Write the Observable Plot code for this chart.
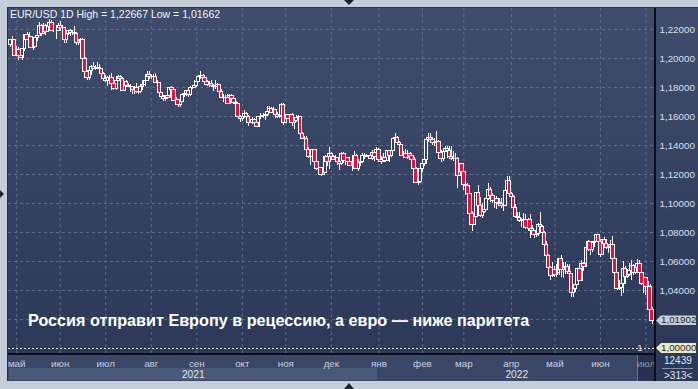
<!DOCTYPE html>
<html><head><meta charset="utf-8">
<script src="https://cdn.jsdelivr.net/npm/d3@7"></script>
<script src="https://cdn.jsdelivr.net/npm/@observablehq/plot@0.6"></script>
<style>
html,body{margin:0;padding:0;}
body{width:698px;height:389px;background:#c6ced9;position:relative;overflow:hidden;font-family:'Liberation Sans',Arial,sans-serif;}
.abs{position:absolute;}
#panel{left:8px;top:8px;width:690px;height:373px;background:linear-gradient(#3f4c6b,#2b3757);}
#chart{position:absolute;left:8px;top:8px;}
#title{left:10px;top:9px;font-size:10.5px;line-height:11px;color:#f2f4f8;white-space:nowrap;}
#caption{left:28px;top:312px;font-size:16.2px;line-height:16px;font-weight:bold;color:#ffffff;white-space:nowrap;}
.tag{font-size:9.8px;line-height:10px;height:10px;color:#1b2335;padding-left:5px;box-sizing:border-box;clip-path:polygon(0 50%,5px 0,100% 0,100% 100%,5px 100%);white-space:nowrap;}
.tri{width:0;height:0;}
</style>
</head><body>
<div id="panel" class="abs"></div>
<div id="axisband" class="abs" style="left:8px;top:355px;width:647px;height:26px;background:#3a4766;"></div>
<div id="year2021" class="abs" style="top:368px;height:12px;background:#4b5978;"></div>
<div id="curbox" class="abs" style="top:355px;height:26px;background:#283250;border-left:1px solid #6b7489;box-sizing:border-box;"></div>
<div id="chart"></div>
<div class="abs" style="left:654px;top:8px;width:2px;height:373px;background:#0b0e16;"></div>
<div class="abs" style="left:8px;top:353px;width:647px;height:2px;background:#0b0e16;"></div>
<div class="abs" style="left:7px;top:7px;width:691px;height:1px;background:#2a3246;"></div>
<div class="abs" style="left:7px;top:7px;width:1px;height:374px;background:#2a3246;"></div>
<div id="title" class="abs"></div>
<div id="caption" class="abs">Россия отправит Европу в рецессию, а евро — ниже паритета</div>
<div class="abs" style="left:664px;top:356px;font-size:10px;line-height:10px;color:#e2e8f2;">12439</div>
<div class="abs" style="left:662px;top:368px;width:31px;height:1px;background:#8a93a6;"></div>
<div class="abs" style="left:664px;top:371px;font-size:10px;line-height:10px;color:#e2e8f2;">&gt;313&lt;</div>
<div class="abs tri" style="left:344px;top:0;border-left:5px solid transparent;border-right:5px solid transparent;border-top:5px solid #1b2232;"></div>
<div class="abs tri" style="left:344px;top:383px;border-left:5px solid transparent;border-right:5px solid transparent;border-bottom:6px solid #1b2232;"></div>
<div class="abs tri" style="left:0;top:190px;border-top:4px solid transparent;border-bottom:4px solid transparent;border-left:4px solid #1b2232;"></div>
<script>
// ---- data (EUR/USD daily, 28 Apr 2021 – 6 Jul 2022) ----
const openP = [
1.2090,1.2125,1.2127,
1.2020,1.2062,1.2016,1.2005,1.2065,1.2164,1.2130,1.2149,1.2074,1.2080,1.2143,1.2154,1.2225,1.2172,1.2226,1.2180,1.2214,1.2248,1.2193,1.2193,1.2193,
1.2226,1.2212,1.2211,1.2125,1.2168,1.2190,1.2173,1.2178,1.2171,1.2107,1.2119,1.2125,1.1998,1.1905,1.1864,1.1917,1.1941,1.1925,1.1932,1.1937,1.1925,1.1895,
1.1857,1.1847,1.1865,1.1867,1.1822,1.1792,1.1844,1.1874,1.1860,1.1776,1.1835,1.1810,1.1806,1.1801,1.1781,1.1794,1.1771,1.1771,1.1802,1.1817,1.1843,1.1888,
1.1870,1.1869,1.1869,1.1834,1.1833,1.1762,1.1735,1.1719,1.1738,1.1729,1.1796,1.1780,1.1710,1.1711,1.1677,1.1701,1.1745,1.1755,1.1773,1.1750,1.1794,1.1795,
1.1808,1.1838,1.1874,1.1880,1.1866,1.1839,1.1818,1.1825,1.1812,1.1805,1.1806,1.1818,1.1766,1.1725,1.1728,1.1726,1.1688,1.1739,1.1718,1.1694,1.1683,1.1596,
1.1580,1.1595,1.1620,1.1597,1.1553,1.1553,1.1573,1.1553,1.1530,1.1594,1.1597,1.1601,1.1607,1.1633,1.1652,1.1623,1.1643,1.1608,1.1598,1.1604,1.1682,
1.1558,1.1607,1.1581,1.1612,1.1553,1.1567,1.1590,1.1594,1.1480,1.1446,1.1445,1.1368,1.1320,1.1320,1.1368,1.1288,1.1236,1.1247,1.1200,1.1210,1.1319,1.1289,
1.1338,1.1320,1.1300,1.1315,1.1285,1.1275,1.1344,1.1292,1.1315,1.1285,1.1258,1.1289,1.1330,1.1239,1.1280,1.1285,1.1328,1.1327,1.1322,1.1328,1.1310,1.1350,1.1323,
1.1370,1.1300,1.1287,1.1313,1.1296,1.1359,1.1325,1.1365,1.1442,1.1455,1.1414,1.1405,1.1325,1.1343,1.1312,1.1344,1.1325,1.1302,1.1240,1.1144,1.1147,
1.1235,1.1270,1.1302,1.1441,1.1455,1.1440,1.1415,1.1424,1.1425,1.1349,1.1305,1.1357,1.1374,1.1360,1.1322,1.1308,1.1308,1.1310,1.1190,1.1270,
1.1218,1.1125,1.1120,1.1065,1.0930,1.0855,1.0904,1.1072,1.0985,1.0911,1.0941,1.0957,1.1033,1.1093,1.1051,1.1014,1.1030,1.1005,1.0995,1.0983,1.0985,1.1088,1.1158,
1.1067,1.1046,1.0972,1.0904,1.0901,1.0882,1.0876,1.0885,1.0829,1.0889,1.0826,1.0809,1.0780,1.0788,1.0852,1.0839,1.0798,1.0714,1.0640,1.0558,1.0497,
1.0544,1.0508,1.0522,1.0619,1.0539,1.0552,1.0561,1.0529,1.0513,1.0380,1.0412,1.0436,1.0551,1.0463,1.0586,1.0564,1.0691,1.0733,1.0679,1.0727,1.0737,1.0780,
1.0733,1.0648,1.0749,1.0720,1.0693,1.0703,1.0716,1.0616,1.0518,1.0408,1.0414,1.0445,1.0548,1.0495,1.0506,1.0534,1.0567,1.0524,1.0555,1.0584,1.0518,1.0442,
1.0484,1.0426,1.0425,1.0266];
const highP = [
1.2128,1.2150,1.2129,
1.2080,1.2077,1.2036,1.2071,1.2168,1.2182,1.2181,1.2152,1.2081,1.2147,1.2163,1.2245,1.2234,1.2242,1.2234,1.2228,1.22667,1.2262,1.2227,1.2207,1.2239,
1.2254,1.2228,1.2213,1.2185,1.2195,1.2200,1.2196,1.2218,1.2180,1.2130,1.2141,1.2138,1.2006,1.1910,1.1919,1.1954,1.1975,1.1954,1.1975,1.1960,1.1931,1.1906,
1.1885,1.1875,1.1883,1.1895,1.1842,1.1868,1.1880,1.1880,1.1867,1.1837,1.1851,1.1828,1.1822,1.1809,1.1806,1.1830,1.1790,1.1819,1.1848,1.1850,1.1909,1.1908,
1.1892,1.1890,1.1900,1.1850,1.1837,1.1764,1.1748,1.1743,1.1742,1.1800,1.1804,1.1786,1.1733,1.1717,1.1703,1.1753,1.1764,1.1775,1.1782,1.1806,1.1810,1.1846,
1.1857,1.1876,1.1909,1.1887,1.1869,1.1849,1.1844,1.1848,1.1818,1.1846,1.1830,1.1821,1.1786,1.1752,1.1746,1.1750,1.1751,1.1750,1.1720,1.1704,1.1686,1.1608,
1.1613,1.1642,1.1627,1.1604,1.1579,1.1595,1.1588,1.1571,1.1599,1.1624,1.1624,1.1619,1.1669,1.1667,1.1660,1.1665,1.1645,1.1625,1.1620,1.1692,1.1692,
1.1616,1.1613,1.1616,1.1618,1.1571,1.1609,1.1608,1.1597,1.1490,1.1464,1.1464,1.1386,1.1346,1.1374,1.1375,1.1299,1.1264,1.1249,1.1229,1.1334,1.1337,1.1383,
1.1352,1.1334,1.1333,1.1316,1.1290,1.1355,1.1351,1.1326,1.1319,1.1301,1.1293,1.1360,1.1335,1.1305,1.1304,1.1345,1.1343,1.1337,1.1332,1.1342,1.1367,1.1369,1.1385,
1.1376,1.1322,1.1346,1.1330,1.1364,1.1362,1.1375,1.1452,1.1482,1.1465,1.1425,1.1410,1.1356,1.1369,1.1363,1.1349,1.1331,1.1317,1.1246,1.1173,1.1247,
1.1275,1.1310,1.1450,1.1483,1.1480,1.1452,1.1449,1.1495,1.1436,1.1365,1.1368,1.1395,1.1394,1.1393,1.1394,1.1360,1.1345,1.1314,1.1274,1.1275,
1.1234,1.1153,1.1138,1.1069,1.0946,1.0933,1.1078,1.1121,1.1042,1.0998,1.0996,1.1045,1.1137,1.1110,1.1069,1.1046,1.1046,1.1036,1.1037,1.0999,1.1137,1.1185,1.1184,
1.1076,1.1052,1.0993,1.0937,1.0935,1.0899,1.0934,1.0924,1.0895,1.0925,1.0850,1.0817,1.0808,1.0864,1.0936,1.0851,1.0805,1.0737,1.0648,1.0567,1.0594,
1.0565,1.0578,1.0623,1.0641,1.0592,1.0594,1.0579,1.0578,1.0517,1.0423,1.0445,1.0552,1.0565,1.0606,1.0596,1.0697,1.0748,1.0734,1.0729,1.0766,1.0787,1.0786,
1.0738,1.0750,1.0764,1.0752,1.0710,1.0748,1.0774,1.0637,1.0521,1.0470,1.0506,1.0601,1.0565,1.0546,1.0583,1.0606,1.0579,1.0571,1.0614,1.0606,1.0540,1.0486,
1.0487,1.0463,1.0444,1.0280];
const lowP = [
1.2079,1.2101,1.2018,
1.2017,1.1986,1.1999,1.1985,1.2051,1.2122,1.2125,1.2070,1.2052,1.2077,1.2120,1.2152,1.2152,1.2164,1.2160,1.2177,1.2210,1.2188,1.2181,1.2133,1.2192,
1.2186,1.2184,1.2104,1.2104,1.2158,1.2152,1.2161,1.2144,1.2093,1.2092,1.2092,1.1992,1.1892,1.1847,1.1850,1.1880,1.1922,1.1920,1.1925,1.1914,1.1886,1.1855,
1.1836,1.1807,1.1855,1.1782,1.1782,1.1781,1.1838,1.1836,1.1772,1.1772,1.1806,1.1800,1.1763,1.1755,1.1752,1.1762,1.1755,1.1762,1.1779,1.1805,1.1840,1.1858,
1.1858,1.1850,1.1832,1.1822,1.1754,1.1733,1.1706,1.1705,1.1715,1.1725,1.1763,1.1708,1.1694,1.1665,1.1664,1.1699,1.1730,1.1735,1.1734,1.1736,1.1788,1.1790,
1.1797,1.1832,1.1857,1.1859,1.1834,1.1809,1.1802,1.1811,1.1771,1.1785,1.1800,1.1746,1.1722,1.1700,1.1712,1.1683,1.1685,1.1700,1.1685,1.1666,1.1584,1.1562,
1.1563,1.1586,1.1580,1.1529,1.1549,1.1546,1.1544,1.1524,1.1527,1.1582,1.1584,1.1571,1.1599,1.1618,1.1619,1.1617,1.1589,1.1585,1.1589,1.1586,1.1535,
1.1555,1.1580,1.1571,1.1529,1.1513,1.1557,1.1576,1.1473,1.1443,1.1432,1.1366,1.1310,1.1263,1.1315,1.1251,1.1226,1.1226,1.1186,1.1194,1.1208,1.1258,1.1236,
1.1305,1.1294,1.1281,1.1265,1.1227,1.1263,1.1275,1.1265,1.1260,1.1255,1.1222,1.1285,1.1235,1.1221,1.1256,1.1278,1.1305,1.1315,1.1305,1.1305,1.1300,1.1290,1.1318,
1.1284,1.1272,1.1285,1.1285,1.1293,1.1286,1.1314,1.1356,1.1433,1.1398,1.1394,1.1322,1.1312,1.1310,1.1304,1.1294,1.1264,1.1232,1.1138,1.1121,1.1138,
1.1215,1.1258,1.1270,1.1420,1.1415,1.1403,1.1395,1.1373,1.1345,1.1280,1.1290,1.1350,1.1313,1.1321,1.1300,1.1293,1.1300,1.1106,1.1184,1.1137,
1.1090,1.1055,1.1027,1.0885,1.0806,1.0850,1.0903,1.0982,1.0906,1.0900,1.0932,1.0950,1.1020,1.1004,1.1001,1.0966,1.0962,1.0981,1.0965,1.0944,1.0982,1.1084,1.1058,
1.1028,1.0968,1.0899,1.0879,1.0871,1.0837,1.0867,1.0822,1.0810,1.0757,1.0800,1.0760,1.0765,1.0771,1.0820,1.0768,1.0698,1.0636,1.0514,1.0470,1.0487,
1.0490,1.0492,1.0505,1.0493,1.0483,1.0512,1.0524,1.0504,1.0354,1.0350,1.0389,1.0434,1.0459,1.0461,1.0532,1.0557,1.0670,1.0642,1.0661,1.0696,1.0728,1.0684,
1.0627,1.0642,1.0703,1.0685,1.0653,1.0682,1.0612,1.0506,1.0398,1.0397,1.0359,1.0381,1.0444,1.0482,1.0500,1.0469,1.0506,1.0511,1.0549,1.0505,1.0437,1.0382,
1.0366,1.0410,1.0235,1.01662];
const closeP = [
1.2125,1.2127,1.2020,
1.2062,1.2016,1.2005,1.2065,1.2164,1.2130,1.2149,1.2074,1.2080,1.2143,1.2154,1.2225,1.2172,1.2226,1.2180,1.2214,1.2248,1.2193,1.2193,1.2193,1.2226,
1.2212,1.2211,1.2125,1.2168,1.2190,1.2173,1.2178,1.2171,1.2107,1.2119,1.2125,1.1998,1.1905,1.1864,1.1917,1.1941,1.1925,1.1932,1.1937,1.1925,1.1895,1.1857,
1.1847,1.1865,1.1867,1.1822,1.1792,1.1844,1.1874,1.1860,1.1776,1.1835,1.1810,1.1806,1.1801,1.1781,1.1794,1.1771,1.1771,1.1802,1.1817,1.1843,1.1888,1.1870,
1.1869,1.1869,1.1834,1.1833,1.1762,1.1735,1.1719,1.1738,1.1729,1.1796,1.1780,1.1710,1.1711,1.1677,1.1701,1.1745,1.1755,1.1773,1.1750,1.1794,1.1795,1.1808,
1.1838,1.1874,1.1880,1.1866,1.1839,1.1818,1.1825,1.1812,1.1805,1.1806,1.1818,1.1766,1.1725,1.1728,1.1726,1.1688,1.1739,1.1718,1.1694,1.1683,1.1596,1.1580,
1.1595,1.1620,1.1597,1.1553,1.1553,1.1573,1.1553,1.1530,1.1594,1.1597,1.1601,1.1607,1.1633,1.1652,1.1623,1.1643,1.1608,1.1598,1.1604,1.1682,1.1558,
1.1607,1.1581,1.1612,1.1553,1.1567,1.1590,1.1594,1.1480,1.1446,1.1445,1.1368,1.1320,1.1320,1.1368,1.1288,1.1236,1.1247,1.1200,1.1210,1.1319,1.1289,1.1338,
1.1320,1.1300,1.1315,1.1285,1.1275,1.1344,1.1292,1.1315,1.1285,1.1258,1.1289,1.1330,1.1239,1.1280,1.1285,1.1328,1.1327,1.1322,1.1328,1.1310,1.1350,1.1323,1.1370,
1.1300,1.1287,1.1313,1.1296,1.1359,1.1325,1.1365,1.1442,1.1455,1.1414,1.1405,1.1325,1.1343,1.1312,1.1344,1.1325,1.1302,1.1240,1.1144,1.1147,1.1235,
1.1270,1.1302,1.1441,1.1455,1.1440,1.1415,1.1424,1.1425,1.1349,1.1305,1.1357,1.1374,1.1360,1.1322,1.1308,1.1308,1.1310,1.1190,1.1270,1.1218,
1.1125,1.1120,1.1065,1.0930,1.0855,1.0904,1.1072,1.0985,1.0911,1.0941,1.0957,1.1033,1.1093,1.1051,1.1014,1.1030,1.1005,1.0995,1.0983,1.0985,1.1088,1.1158,1.1067,
1.1046,1.0972,1.0904,1.0901,1.0882,1.0876,1.0885,1.0829,1.0889,1.0826,1.0809,1.0780,1.0788,1.0852,1.0839,1.0798,1.0714,1.0640,1.0558,1.0497,1.0544,
1.0508,1.0522,1.0619,1.0539,1.0552,1.0561,1.0529,1.0513,1.0380,1.0412,1.0436,1.0551,1.0463,1.0586,1.0564,1.0691,1.0733,1.0679,1.0727,1.0737,1.0780,1.0733,
1.0648,1.0749,1.0720,1.0693,1.0703,1.0716,1.0616,1.0518,1.0408,1.0414,1.0445,1.0548,1.0495,1.0506,1.0534,1.0567,1.0524,1.0555,1.0584,1.0518,1.0442,1.0484,
1.0426,1.0425,1.0266,1.01902];
const priceTicks = [1.22, 1.20, 1.18, 1.16, 1.14, 1.12, 1.10, 1.08, 1.06, 1.04, 1.02];
const monthNames = ["янв","фев","мар","апр","май","июн","июл","авг","сен","окт","ноя","дек"];
const parity = 1.0;
const symbol = "EUR/USD 1D";

// ---- build ----
const fmt = v => v.toFixed(5).replace(".", ",");
const dates = d3.utcDays(new Date(Date.UTC(2021,3,28)), new Date(Date.UTC(2022,6,7)))
  .filter(d => d.getUTCDay() !== 0 && d.getUTCDay() !== 6);
if ([openP, highP, lowP, closeP].some(a => a.length !== dates.length))
  throw new Error("length mismatch " + [dates.length, openP.length, highP.length, lowP.length, closeP.length].join(","));
const bars = dates.map((date, i) => ({i, date, open: openP[i], high: highP[i], low: lowP[i], close: closeP[i]}));
const up = bars.filter(b => b.close >= b.open);
const down = bars.filter(b => b.close < b.open);
const monthTicks = bars.filter((b, k) => k > 0 && b.date.getUTCMonth() !== bars[k - 1].date.getUTCMonth())
  .map(b => ({i: b.i, label: monthNames[b.date.getUTCMonth()], year: b.date.getUTCFullYear()}));
const curTick = monthTicks[monthTicks.length - 1];
const pastTicks = monthTicks.slice(0, -1);
const xDomain = [-0.966, bars.length - 1 + 1.594];
const yearStart = bars.find(b => b.date.getUTCFullYear() === 2022).i - 0.5;
const yearLabels = [
  {x: (xDomain[0] + yearStart) / 2, label: "2021"},
  {x: (yearStart + xDomain[1]) / 2, label: "2022"}
];
const W = 690, H = 373, MR = 43, MB = 27;
const upHalf = 0.7, downHalf = 0.85;

const plot = Plot.plot({
  width: W, height: H,
  marginLeft: 0, marginRight: MR, marginTop: 0, marginBottom: MB,
  x: {type: "linear", domain: xDomain, axis: null},
  y: {type: "linear", domain: [0.995862, 1.234483], axis: null},
  style: {background: "transparent", fontFamily: "'Liberation Sans', Arial, sans-serif", overflow: "visible"},
  marks: [
    Plot.ruleY(priceTicks, {y: d => d, stroke: "#5d6a89", strokeDasharray: "3,3", strokeWidth: 1}),
    Plot.ruleX(monthTicks, {x: "i", stroke: "#5d6a89", strokeDasharray: "3,3", strokeWidth: 1}),
    Plot.ruleY([parity], {y: d => d, stroke: "#e6e6e6", strokeDasharray: "2,2", strokeWidth: 1}),
    Plot.text([parity], {y: d => d, text: d => String(d), frameAnchor: "right", textAnchor: "end", dx: -13, dy: -1, fill: "#e6e6e6", fontSize: 9.5}),
    Plot.ruleX(bars, {x: "i", y1: "low", y2: "high", stroke: "#ffffff", strokeWidth: 1, shapeRendering: "crispEdges"}),
    Plot.rect(up, {x1: d => d.i - upHalf, x2: d => d.i + upHalf, y1: "open", y2: "close", fill: "#35425f", stroke: "#ffffff", strokeWidth: 1, shapeRendering: "crispEdges"}),
    Plot.rect(down, {x1: d => d.i - downHalf, x2: d => d.i + downHalf, y1: "open", y2: "close", fill: "#e8103a", stroke: "#ffffff", strokeWidth: 1, shapeRendering: "crispEdges"}),
    Plot.text(priceTicks.filter(t => t > 1.03), {y: d => d, text: fmt, frameAnchor: "right", textAnchor: "start", dx: 4, fill: "#d6e0f0", fontSize: 9.8}),
    Plot.text(pastTicks, {x: "i", text: "label", frameAnchor: "bottom", lineAnchor: "bottom", dy: 12, fill: "#c6d1e3", fontSize: 9.8}),
    Plot.text([curTick], {x: "i", text: "label", frameAnchor: "bottom", lineAnchor: "bottom", dy: 12, fill: "#8c95a8", fontSize: 9.8}),
    Plot.text(yearLabels, {x: "x", text: "label", frameAnchor: "bottom", lineAnchor: "bottom", dy: 23, fill: "#e0e7f2", fontSize: 10.2})
  ]
});
document.getElementById("chart").appendChild(plot);

const sx = plot.scale("x"), sy = plot.scale("y");
const xf = sx.apply ? sx.apply : d3.scaleLinear(sx.domain, sx.range);
const yf = sy.apply ? sy.apply : d3.scaleLinear(sy.domain, sy.range);
const OX = 8, OY = 8;

// year band and current-month box
const y21 = document.getElementById("year2021");
y21.style.left = (OX + 1) + "px";
y21.style.width = (xf(yearStart) - 1) + "px";
const cb = document.getElementById("curbox");
const cbLeft = OX + xf(curTick.i) - 8;
cb.style.left = cbLeft + "px";
cb.style.width = (OX + xf(xDomain[1]) - cbLeft) + "px";

// title from data
document.getElementById("title").textContent =
  symbol + " High = " + fmt(d3.max(highP)) + " Low = " + fmt(d3.min(lowP));

// price tags
function tag(value, bg) {
  const d = document.createElement("div");
  d.className = "abs tag";
  d.style.left = "656px";
  d.style.width = "40px";
  d.style.top = (OY + yf(value) - 5) + "px";
  d.style.background = bg;
  d.textContent = fmt(value);
  document.body.appendChild(d);
}
tag(closeP[closeP.length - 1], "#c9cdd4");
tag(parity, "#efe9c2");
</script>
</body></html>
